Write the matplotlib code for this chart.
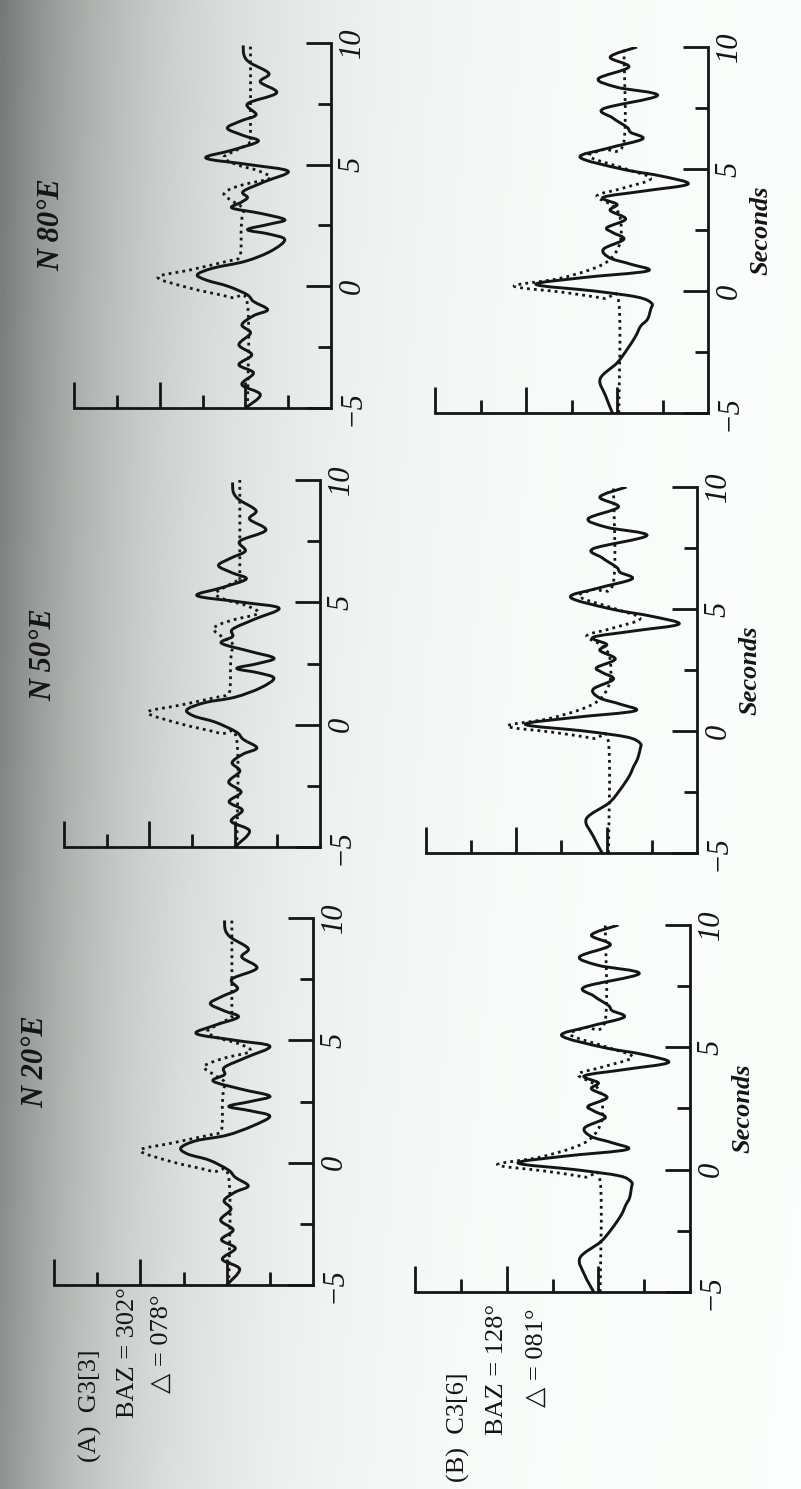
import numpy as np
import matplotlib.pyplot as plt
from matplotlib.path import Path
from matplotlib.patches import PathPatch

W, H = 801, 1489
SERIF = ['Liberation Serif', 'DejaVu Serif']

# ---- trace data: time (s) and amplitude (tick units) ----
# (A) G3[3], N 80 E
t_80a_syn = [-5.0, -4.45, -4.04, -3.56, -3.22, -2.81, -2.4, -1.92, -1.58, -1.2,
             -0.96, -0.62, -0.34, 0.0, 0.25, 0.48, 0.75, 1.03, 1.45, 1.92,
             2.15, 2.33, 2.55, 2.74, 3.0, 3.22, 3.45, 3.65, 3.9, 4.3,
             4.73, 5.0, 5.27, 5.6, 5.96, 6.2, 6.5, 6.8, 7.05, 7.5,
             7.95, 8.4, 8.75, 9.2, 9.5, 9.9]
a_80a_syn = [0.0, -0.35, 0.08, -0.19, 0.15, -0.15, 0.15, -0.12, 0.08, -0.2,
             -0.52, -0.19, -0.04, 0.4, 0.9, 1.12, 0.75, 0.0, -0.6, -0.92,
             -0.55, -0.05, -0.55, -0.92, -0.35, 0.31, 0.1, -0.05, 0.05, -0.45,
             -1.0, -0.1, 0.92, 0.3, -0.3, 0.05, 0.42, 0.1, -0.25, -0.05,
             -0.73, -0.35, -0.55, -0.1, 0.03, 0.05]
t_80a_obs = [-5.0, -0.75, -0.45, -0.07, 0.37, 0.68, 1.03, 1.16, 1.6, 2.2, 2.8, 3.2,
             3.5, 3.77, 4.0, 4.2, 4.45, 4.75, 5.0, 5.3, 5.6, 5.9, 6.3, 10.0]
a_80a_obs = [-0.05, -0.05, 0.35, 1.3, 2.04, 1.27, 0.42, 0.15, 0.1, 0.1, 0.08, 0.05,
             0.3, 0.5, 0.35, 0.0, -0.58, -0.3, 0.2, 0.5, 0.2, -0.1, -0.12, -0.12]

# (B) C3[6], N 80 E
t_80b_syn = [-5.0, -4.3, -3.6, -2.95, -2.4, -1.85, -1.44, -1.16, -0.75, -0.5,
             -0.25, 0.0, 0.27, 0.55, 0.82, 1.1, 1.35, 1.71, 2.12, 2.4,
             2.6, 2.95, 3.3, 3.55, 3.84, 4.1, 4.38, 4.7, 5.0, 5.48,
             5.85, 6.23, 6.5, 6.71, 7.1, 7.47, 8.01, 8.35, 8.7, 9.18,
             9.59, 10.0]
a_80b_syn = [0.1, 0.25, 0.37, 0.0, -0.22, -0.41, -0.52, -0.67, -0.74, -0.76,
             -0.45, 0.5, 1.78, 0.74, -0.67, -0.3, 0.15, 0.3, -0.15, 0.1,
             0.22, -0.19, 0.15, 0.0, 0.3, -0.6, -1.56, -1.0, -0.1, 0.81,
             0.2, -0.56, -0.3, -0.22, 0.1, 0.3, -0.89, 0.0, 0.41, -0.26,
             0.15, -0.44]
t_80b_obs = [-5.0, -0.48, -0.3, -0.05, 0.2, 0.5, 0.9, 1.3, 2.0, 3.0,
             3.5, 3.9, 4.2, 4.6, 5.0, 5.5, 5.8, 6.1, 10.0]
a_80b_obs = [-0.04, -0.04, 0.3, 1.2, 2.26, 1.3, 0.55, 0.15, -0.07, -0.07,
             0.1, 0.44, -0.1, -0.74, -0.2, 0.6, 0.3, -0.15, -0.15]

# (A) G3[3], N 50 E
t_50a_syn = [-5.0, -4.35, -3.95, -3.5, -3.15, -2.75, -2.35, -1.9, -1.55, -1.2,
             -0.95, -0.6, -0.3, 0.1, 0.35, 0.61, 0.9, 1.12, 1.5, 1.9,
             2.12, 2.3, 2.5, 2.72, 3.0, 3.33, 3.6, 3.9, 4.3, 4.76,
             5.0, 5.27, 5.6, 5.95, 6.2, 6.5, 6.8, 7.1, 7.5, 7.95,
             8.4, 8.75, 9.2, 9.5, 9.9]
a_50a_syn = [0.0, -0.35, 0.08, -0.18, 0.13, -0.15, 0.14, -0.12, 0.06, -0.2,
             -0.52, -0.2, -0.04, 0.45, 0.95, 1.12, 0.7, 0.0, -0.6, -0.92,
             -0.55, -0.05, -0.55, -0.92, -0.35, 0.31, 0.05, 0.05, -0.45, -1.04,
             -0.2, 0.88, 0.3, -0.27, 0.05, 0.38, 0.1, -0.25, -0.12, -0.73,
             -0.35, -0.5, -0.1, 0.03, 0.05]
t_50a_obs = [-5.0, -0.65, -0.35, 0.05, 0.5, 0.8, 1.12, 1.25, 1.7, 2.3, 2.9, 3.3,
             3.6, 3.9, 4.1, 4.3, 4.55, 4.85, 5.1, 5.35, 5.65, 5.95, 6.3, 10.0]
a_50a_obs = [-0.05, -0.05, 0.35, 1.3, 2.04, 1.27, 0.42, 0.15, 0.1, 0.1, 0.08, 0.05,
             0.3, 0.5, 0.35, 0.0, -0.55, -0.3, 0.2, 0.45, 0.2, -0.1, -0.12, -0.12]

# (B) C3[6], N 50 E
t_50b_syn = t_80b_syn
a_50b_syn = [0.1, 0.3, 0.45, -0.05, -0.3, -0.5, -0.6, -0.68, -0.74, -0.74,
             -0.45, 0.5, 1.8, 0.74, -0.62, -0.3, 0.15, 0.3, -0.15, 0.1,
             0.22, -0.19, 0.15, 0.0, 0.3, -0.6, -1.6, -1.0, -0.1, 0.8,
             0.2, -0.56, -0.3, -0.22, 0.1, 0.3, -0.89, 0.0, 0.41, -0.26,
             0.15, -0.44]
t_50b_obs = t_80b_obs
a_50b_obs = [-0.04, -0.04, 0.3, 1.2, 2.2, 1.3, 0.55, 0.15, -0.07, -0.07,
             0.1, 0.44, -0.1, -0.74, -0.2, 0.6, 0.3, -0.15, -0.15]

# (A) G3[3], N 20 E
t_20a_syn = t_50a_syn
a_20a_syn = [0.0, -0.3, 0.1, -0.2, 0.12, -0.15, 0.14, -0.1, 0.06, -0.2,
             -0.5, -0.2, -0.04, 0.4, 0.9, 1.06, 0.7, 0.0, -0.6, -1.0,
             -0.55, -0.05, -0.55, -1.0, -0.35, 0.31, 0.05, 0.05, -0.45, -1.0,
             -0.2, 0.7, 0.3, -0.27, 0.05, 0.38, 0.1, -0.25, -0.12, -0.7,
             -0.35, -0.5, -0.1, 0.03, 0.05]
t_20a_obs = t_50a_obs
a_20a_obs = [-0.05, -0.05, 0.35, 1.3, 2.0, 1.27, 0.42, 0.15, 0.1, 0.1, 0.08, 0.05,
             0.3, 0.53, 0.35, 0.0, -0.55, -0.3, 0.2, 0.45, 0.2, -0.1, -0.12, -0.12]

# (B) C3[6], N 20 E
t_20b_syn = t_80b_syn
a_20b_syn = [0.1, 0.3, 0.4, -0.05, -0.3, -0.5, -0.6, -0.68, -0.72, -0.72,
             -0.45, 0.5, 1.75, 0.74, -0.62, -0.3, 0.15, 0.3, -0.15, 0.1,
             0.22, -0.19, 0.15, 0.0, 0.3, -0.6, -1.53, -1.0, -0.1, 0.8,
             0.2, -0.56, -0.3, -0.22, 0.1, 0.3, -0.89, 0.0, 0.41, -0.26,
             0.15, -0.44]
t_20b_obs = t_80b_obs
a_20b_obs = [-0.04, -0.04, 0.3, 1.2, 2.2, 1.3, 0.55, 0.15, -0.07, -0.07,
             0.1, 0.44, -0.1, -0.74, -0.2, 0.6, 0.3, -0.15, -0.15]

titles = ['N 80°E', 'N 50°E', 'N 20°E']
time_labels = ['\u22125', '0', '5', '10']
event_a = ['(A)  G3[3]', 'BAZ = 302°', '\u25b3 = 078°']
event_b = ['(B)  C3[6]', 'BAZ = 128°', '\u25b3 = 081°']

# panel boxes in pixels: left, right, top, bottom  (page is printed rotated)
boxes = {
    '80a': (74, 331, 43, 408), '80b': (435, 708, 47, 413),
    '50a': (64, 320, 480, 847), '50b': (426, 697, 487, 853),
    '20a': (54, 313, 918, 1285), '20b': (415, 690, 925, 1292),
}
traces = {
    '80a': (t_80a_syn, a_80a_syn, t_80a_obs, a_80a_obs),
    '80b': (t_80b_syn, a_80b_syn, t_80b_obs, a_80b_obs),
    '50a': (t_50a_syn, a_50a_syn, t_50a_obs, a_50a_obs),
    '50b': (t_50b_syn, a_50b_syn, t_50b_obs, a_50b_obs),
    '20a': (t_20a_syn, a_20a_syn, t_20a_obs, a_20a_obs),
    '20b': (t_20b_syn, a_20b_syn, t_20b_obs, a_20b_obs),
}


def smooth_trace(ax, amp, tim, **kw):
    # smooth curve through the read points (Catmull-Rom as cubic Bezier path)
    p = np.column_stack([amp, tim]).astype(float)
    p = np.vstack([p[0], p, p[-1]])
    verts = [p[1]]
    codes = [Path.MOVETO]
    for i in range(1, len(p) - 2):
        c1 = p[i] + (p[i + 1] - p[i - 1]) / 6
        c2 = p[i + 1] - (p[i + 2] - p[i]) / 6
        verts += [c1, c2, p[i + 1]]
        codes += [Path.CURVE4] * 3
    ax.add_patch(PathPatch(Path(verts, codes), fill=False, **kw))


fig = plt.figure(figsize=(W / 100, H / 100), dpi=100)

# scanned page shading on the left
bg = fig.add_axes([0, 0, 1, 1], zorder=-5)
xs = np.linspace(0, W, 120)
ys = np.linspace(0, H, 120)
X, Y = np.meshgrid(xs, ys)
depth = 0.52 - 0.10 * Y / H
L = 165 - 25 * Y / H
v = 1 - depth * np.exp(-X / L)
img = np.dstack([v - 0.015, v, v - 0.01]).clip(0, 1)
bg.imshow(img, extent=[0, W, H, 0], aspect='auto', interpolation='bilinear')
bg.set_xlim(0, W)
bg.set_ylim(H, 0)
bg.axis('off')

ink = '#151515'
for key, (l, r, t, b) in boxes.items():
    ax = fig.add_axes([l / W, 1 - b / H, (r - l) / W, (b - t) / H])
    ax.patch.set_alpha(0)
    ts, as_, to, ao = traces[key]
    smooth_trace(ax, ao, to, edgecolor=ink, lw=2.0, linestyle=(0, (1.0, 1.5)))
    smooth_trace(ax, as_, ts, edgecolor=ink, lw=2.1)
    ax.set_xlim(4, -2)
    ax.set_ylim(-5, 10)
    for s in ['left', 'top']:
        ax.spines[s].set_visible(False)
    for s in ['right', 'bottom']:
        ax.spines[s].set_linewidth(2.0)
        ax.spines[s].set_color(ink)
    ax.set_xticks([4, 2, 0])
    ax.set_xticks([3, 1, -1], minor=True)
    ax.tick_params(axis='x', which='major', direction='in', length=19, width=2,
                   color=ink, labelbottom=False)
    ax.tick_params(axis='x', which='minor', direction='in', length=9.5, width=2,
                   color=ink)
    ax.yaxis.tick_right()
    ax.set_yticks([-5, 0, 5, 10], labels=time_labels, fontsize=22,
                  fontstyle='italic', family=SERIF, rotation=90, va='center')
    ax.set_yticks([-2.5, 2.5, 7.5], minor=True)
    ax.tick_params(axis='y', which='major', direction='in', length=18, width=2,
                   color=ink, pad=5, labelcolor=ink)
    ax.tick_params(axis='y', which='minor', direction='in', length=9.5, width=2,
                   color=ink)
    if key.endswith('b'):
        ax.yaxis.set_label_position('right')
        ax.set_ylabel('Seconds', fontsize=19, fontweight='bold',
                      fontstyle='italic', family=SERIF, labelpad=4, color=ink)

# column titles
for txt, (x, y) in zip(titles, [(52, 225), (44, 655), (36, 1062)]):
    fig.text(x / W, 1 - y / H, txt, rotation=90, ha='center', va='center',
             fontsize=22, fontweight='bold', fontstyle='italic', family=SERIF,
             color=ink)

# event annotations
for lines, xs_, ys_ in [(event_a, [90, 128, 162], [1462, 1418, 1393]),
                        (event_b, [458, 497, 537], [1482, 1435, 1407])]:
    for txt, x, y in zip(lines, xs_, ys_):
        fig.text(x / W, 1 - y / H, txt, rotation=90, rotation_mode='anchor',
                 ha='left', va='center', fontsize=19,
                 family=['Liberation Serif', 'DejaVu Sans'], color=ink)

fig.savefig('out.png', dpi=100)
